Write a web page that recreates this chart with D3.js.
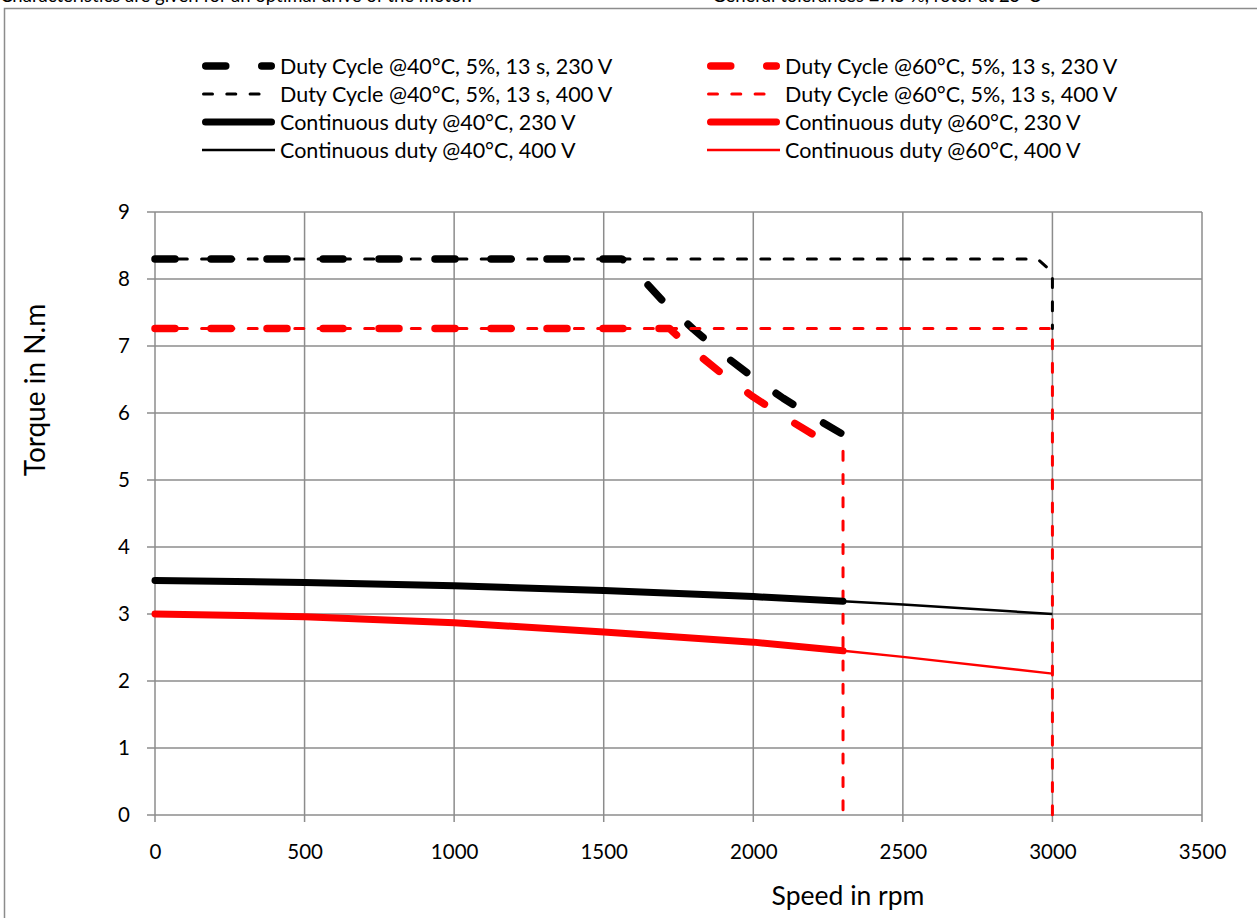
<!DOCTYPE html>
<html><head><meta charset="utf-8">
<script src="https://cdn.jsdelivr.net/npm/d3@7"></script>
<style>
body{margin:0;background:#fff;overflow:hidden}
svg text{font-family:Lato,"Open Sans",sans-serif;fill:#000}
</style></head>
<body>
<svg id="c" width="1257" height="918"></svg>
<script>
// ---- data ----
const xTicks = [0,500,1000,1500,2000,2500,3000,3500];
const yTicks = [0,1,2,3,4,5,6,7,8,9];
const duty40_230_speed  = [0,1560,1580,1700,1800,1900,2000,2100,2200,2300,2300];
const duty40_230_torque = [8.3,8.3,8.24,7.66,7.25,6.87,6.53,6.22,5.94,5.68,5.6];
const duty60_230_speed  = [0,1700,1720,1800,1900,2000,2100,2200,2300];
const duty60_230_torque = [7.26,7.26,7.26,6.93,6.57,6.24,5.95,5.68,5.43];
const duty40_400_speed  = [0,2950,3000,3000];
const duty40_400_torque = [8.3,8.3,8.1,7.26];
const duty60_400_speed  = [0,3000,3000];
const duty60_400_torque = [7.26,7.26,0];
const drop60_230_speed  = [2300,2300];
const drop60_230_torque = [5.43,0];
const cont40_230_speed  = [0,500,1000,1500,2000,2300];
const cont40_230_torque = [3.5,3.47,3.42,3.35,3.26,3.19];
const cont60_230_speed  = [0,500,1000,1500,2000,2300];
const cont60_230_torque = [3.0,2.96,2.87,2.73,2.58,2.45];
const cont40_400_speed  = [0,500,1000,1500,2000,2300,2500,3000];
const cont40_400_torque = [3.5,3.47,3.42,3.35,3.26,3.19,3.14,3.0];
const cont60_400_speed  = [0,500,1000,1500,2000,2300,2500,3000];
const cont60_400_torque = [3.0,2.96,2.87,2.73,2.58,2.45,2.36,2.11];
const legendLabels = [
 "Duty Cycle @40°C, 5%, 13 s, 230 V","Duty Cycle @60°C, 5%, 13 s, 230 V",
 "Duty Cycle @40°C, 5%, 13 s, 400 V","Duty Cycle @60°C, 5%, 13 s, 400 V",
 "Continuous duty @40°C, 230 V","Continuous duty @60°C, 230 V",
 "Continuous duty @40°C, 400 V","Continuous duty @60°C, 400 V"];
const noteLeft = "Characteristics are given for an optimal drive of the motor.";
const noteRight = "General tolerances ±7.5 %, rotor at 25°C";
const xTitle = "Speed in rpm", yTitle = "Torque in N.m";

// ---- styles ----
const BLK="#000", RED="#ff0000", GRID="#8c8c8c";
const thickDash={w:7.5,dash:"20,36",cap:"round",len:73};
const thinDash={w:3,dash:"9,14.3",cap:"round",len:66};
const thickSolid={w:7,dash:null,cap:"round",len:73};
const thinSolid={w:2.5,dash:null,cap:"butt",len:73};

const svg=d3.select("#c");
const x=d3.scaleLinear().domain([0,3500]).range([155,1202]);
const y=d3.scaleLinear().domain([0,9]).range([815,212]);

// notes and border
svg.append("text").attr("x",0).attr("y",2).attr("font-size",18.5).text(noteLeft);
svg.append("text").attr("x",712).attr("y",2).attr("font-size",18.5).text(noteRight);
svg.append("rect").attr("x",4.5).attr("y",8.5).attr("width",1300).attr("height",1000)
  .attr("fill","none").attr("stroke",GRID).attr("stroke-width",1.5);

// grid
const g=svg.append("g");
g.selectAll(".vg").data(xTicks).join("line").attr("x1",d=>x(d)).attr("x2",d=>x(d))
  .attr("y1",y(9)).attr("y2",y(0)+7).attr("stroke",GRID).attr("stroke-width",1.5);
g.selectAll(".hg").data(yTicks).join("line").attr("y1",d=>y(d)).attr("y2",d=>y(d))
  .attr("x1",x(0)-8).attr("x2",x(3500)).attr("stroke",GRID).attr("stroke-width",1.5);

// axes labels via d3 axes
const ax=svg.append("g").attr("transform",`translate(0,${y(0)})`)
  .call(d3.axisBottom(x).tickValues(xTicks).tickSize(0).tickPadding(29).tickFormat(d3.format("d")));
ax.select(".domain").remove();
ax.selectAll("text").attr("font-size",20.5).style("font-family","Lato");
const ay=svg.append("g").attr("transform",`translate(${x(0)},0)`)
  .call(d3.axisLeft(y).tickValues(yTicks).tickSize(0).tickPadding(25).tickFormat(d3.format("d")));
ay.select(".domain").remove();
ay.selectAll("text").attr("font-size",20.5).style("font-family","Lato");

svg.append("text").attr("x",848).attr("y",905).attr("text-anchor","middle").attr("font-size",26.5).text(xTitle);
svg.append("text").attr("transform","translate(45,390) rotate(-90)").attr("text-anchor","middle").attr("font-size",28).text(yTitle);

// series
const line=d3.line().x(d=>x(d[0])).y(d=>y(d[1]));
const zip=(a,b)=>a.map((v,i)=>[v,b[i]]);
function draw(sp,tq,color,st){
  const p=svg.append("path").datum(zip(sp,tq)).attr("d",line).attr("fill","none")
   .attr("stroke",color).attr("stroke-width",st.w).attr("stroke-linecap",st.cap).attr("stroke-linejoin","round");
  if(st.dash) p.attr("stroke-dasharray",st.dash);
}
draw(duty40_230_speed,duty40_230_torque,BLK,thickDash);
draw(duty60_230_speed,duty60_230_torque,RED,thickDash);
draw(duty40_400_speed,duty40_400_torque,BLK,thinDash);
draw(duty60_400_speed,duty60_400_torque,RED,thinDash);
draw(drop60_230_speed,drop60_230_torque,RED,thinDash);
draw(cont40_230_speed,cont40_230_torque,BLK,thickSolid);
draw(cont60_230_speed,cont60_230_torque,RED,thickSolid);
draw(cont40_400_speed,cont40_400_torque,BLK,thinSolid);
draw(cont60_400_speed,cont60_400_torque,RED,thinSolid);

// legend
const legStyles=[thickDash,thickDash,thinDash,thinDash,thickSolid,thickSolid,thinSolid,thinSolid];
const legColors=[BLK,RED,BLK,RED,BLK,RED,BLK,RED];
const colX=[202,707], rowY=[66,94,122,150];
legendLabels.forEach((lab,i)=>{
  const cx=colX[i%2], cy=rowY[Math.floor(i/2)], st=legStyles[i];
  const inset = st.cap==="round" ? st.w/2 : 0;
  const p=svg.append("line").attr("x1",cx+inset).attr("x2",cx+st.len-inset).attr("y1",cy).attr("y2",cy)
    .attr("stroke",legColors[i]).attr("stroke-width",st.w).attr("stroke-linecap",st.cap);
  if(st.dash) p.attr("stroke-dasharray",st.dash);
  svg.append("text").attr("x",cx+78).attr("y",cy+7.5).attr("font-size",21.5).text(lab);
});
</script>
</body></html>
